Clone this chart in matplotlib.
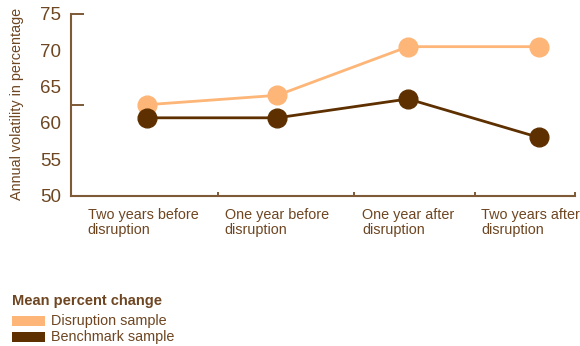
import matplotlib
matplotlib.use("Agg")
import matplotlib.pyplot as plt
from matplotlib.patches import Rectangle

plt.rcParams['font.family'] = ['Liberation Sans', 'DejaVu Sans']

categories = ["Two years before\ndisruption", "One year before\ndisruption",
              "One year after\ndisruption", "Two years after\ndisruption"]
disruption = [62.5, 63.8, 70.5, 70.5]
benchmark = [60.7, 60.7, 63.3, 58.0]
y_labels = [50, 55, 60, 65, 70, 75]

ORANGE = "#FDB677"
BROWN = "#5E3000"
TEXT = "#6E4622"
AXIS = "#7E5A36"

W, H = 580, 346
fig = plt.figure(figsize=(W / 100, H / 100), dpi=100)
ax = fig.add_axes([71 / W, 1 - 195.5 / H, (575 - 71) / W, (195.5 - 14) / H])

x = list(range(len(categories)))
ax.plot(x, disruption, color=ORANGE, lw=2, marker='o', ms=13.5, zorder=3)
ax.plot(x, benchmark, color=BROWN, lw=2, marker='o', ms=13.5, zorder=4)

ax.set_xlim(-0.578, 3.277)
ax.set_ylim(50, 75)

for s in ['top', 'right']:
    ax.spines[s].set_visible(False)
for s in ['left', 'bottom']:
    ax.spines[s].set_color(AXIS)
    ax.spines[s].set_linewidth(1.5)

# y labels, with inward marks only at 62.5 and 75
ax.set_yticks(y_labels)
ax.set_yticklabels([str(v) for v in y_labels])
ax.tick_params(axis='y', which='major', length=0, pad=7, labelsize=13.5, labelcolor=TEXT)
ax.yaxis.remove_overlapping_locs = False
ax.set_yticks([62.5, 75], minor=True)
ax.tick_params(axis='y', which='minor', direction='in', length=9, width=1.4, color=AXIS)

# x: small inward ticks at group boundaries, labels left-aligned after them
ax.set_xticks([])
ax.set_xticks([0.544, 1.59, 2.514, 3.277], minor=True)
ax.tick_params(axis='x', which='minor', direction='in', length=3, width=1.4, color=AXIS)
label_x = [-0.45, 0.598, 1.651, 2.56]
for lx, lab in zip(label_x, categories):
    ax.annotate(lab, xy=(lx, 0), xycoords=('data', 'axes fraction'),
                xytext=(0, -13), textcoords='offset pixels', ha='left', va='top',
                fontsize=10.4, color=TEXT, linespacing=1.05, annotation_clip=False)

fig.text(17 / W, 1 - 104 / H, "Annual volatility in percentage", rotation=90,
         ha='center', va='center', fontsize=10.4, color=TEXT)

# legend
fig.text(12 / W, 1 - 300.5 / H, "Mean percent change", fontweight='bold',
         ha='left', va='center', fontsize=10.5, color=TEXT)
fig.add_artist(Rectangle((12 / W, 1 - 325.7 / H), 33 / W, 9.7 / H,
                         transform=fig.transFigure, color=ORANGE, lw=0))
fig.add_artist(Rectangle((12 / W, 1 - 341.7 / H), 33 / W, 10 / H,
                         transform=fig.transFigure, color=BROWN, lw=0))
fig.text(50.7 / W, 1 - 321.5 / H, "Disruption sample", ha='left', va='center',
         fontsize=10.4, color=TEXT)
fig.text(50.7 / W, 1 - 337 / H, "Benchmark sample", ha='left', va='center',
         fontsize=10.4, color=TEXT)

fig.savefig("out.png", dpi=100)
